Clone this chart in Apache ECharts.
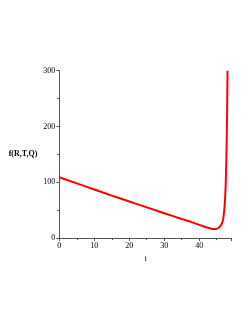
<!DOCTYPE html>
<html><head><meta charset="utf-8">
<script src="https://cdn.jsdelivr.net/npm/echarts@6/dist/echarts.min.js"></script>
<style>html,body{margin:0;padding:0;background:#fff}#c{width:249px;height:323px}</style>
</head><body><div id="c"></div>
<script>
var tValues = [0,5,10,15,20,25,30,35,38,40,42,43,44,44.5,45,45.5,46,46.5,46.8,47,47.2,47.4,47.6,47.8,48,48.1];
var fValues = [109,98,87,76,65.5,55,44.5,34,28,23.5,19.5,17.5,16,16,16.5,18,21,26,32,40,52,70,100,150,230,300];
var xTicks = [0,10,20,30,40];
var yTicks = [0,100,200,300];
var data = tValues.map(function(t,i){return [t,fValues[i]];});
var font = 'Liberation Serif';
var chart = echarts.init(document.getElementById('c'));
chart.setOption({
  animation:false,
  grid:{left:59.3,right:17.3,top:70.7,bottom:85,containLabel:false,outerBoundsMode:'none'},
  xAxis:{type:'value',min:0,max:49.3,interval:10,name:'t',nameLocation:'middle',nameGap:15,
    nameTextStyle:{fontFamily:font,fontSize:8,color:'#000'},
    axisLine:{lineStyle:{color:'#555',width:1}},
    axisTick:{show:true,length:3,lineStyle:{color:'#555'}},
    minorTick:{show:true,splitNumber:2,length:2,lineStyle:{color:'#555'}},
    splitLine:{show:false},
    axisLabel:{fontFamily:font,fontSize:8,color:'#000',margin:4,showMaxLabel:false,
      formatter:function(v){return xTicks.indexOf(v)>=0?String(v):'';}}},
  yAxis:{type:'value',min:0,max:300,interval:100,name:'f(R,T,Q)',nameLocation:'middle',nameRotate:0,nameGap:18,
    nameTextStyle:{fontFamily:font,fontSize:8,fontWeight:'bold',color:'#000'},
    axisLine:{show:true,lineStyle:{color:'#555',width:1}},
    axisTick:{show:true,length:3,lineStyle:{color:'#555'}},
    minorTick:{show:true,splitNumber:2,length:2,lineStyle:{color:'#555'}},
    splitLine:{show:false},
    axisLabel:{fontFamily:font,fontSize:8,color:'#000',margin:4,
      formatter:function(v){return yTicks.indexOf(v)>=0?String(v):'';}}},
  series:[{type:'line',data:data,showSymbol:false,smooth:0.3,
    lineStyle:{color:'#ff0000',width:2}}]
});
</script></body></html>
